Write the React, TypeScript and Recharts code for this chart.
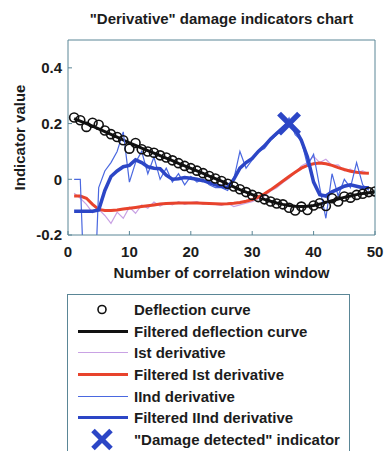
import React from 'react';
import { ComposedChart, Line, Scatter, XAxis, YAxis, Legend } from 'recharts';

const chartTitle = '"Derivative" damage indicators chart';
const xAxisTitle = 'Number of correlation window';
const yAxisTitle = 'Indicator value';

const windows = [
  1, 2, 3, 4, 5, 6, 7, 8, 9, 10, 11, 12, 13, 14, 15, 16, 17, 18, 19, 20, 21, 22, 23, 24, 25,
  26, 27, 28, 29, 30, 31, 32, 33, 34, 35, 36, 37, 38, 39, 40, 41, 42, 43, 44, 45, 46, 47, 48, 49, 50,
];

const deflection = [
  0.222, 0.212, 0.188, 0.203, 0.196, 0.175, 0.162, 0.152, 0.14, 0.11, 0.13, 0.108, 0.1, 0.095, 0.086,
  0.078, 0.068, 0.058, 0.048, 0.04, 0.031, 0.022, 0.012, 0.003, -0.006, -0.016, -0.026, -0.036, -0.046,
  -0.056, -0.064, -0.072, -0.08, -0.087, -0.09, -0.102, -0.112, -0.098, -0.11, -0.094, -0.086, -0.096,
  -0.068, -0.08, -0.062, -0.066, -0.056, -0.052, -0.046, -0.044,
];

const filteredDeflection = [
  0.218, 0.209, 0.2, 0.191, 0.181, 0.171, 0.161, 0.151, 0.141, 0.131, 0.122, 0.112, 0.103, 0.094, 0.085,
  0.076, 0.067, 0.057, 0.048, 0.039, 0.03, 0.021, 0.011, 0.002, -0.007, -0.017, -0.027, -0.037, -0.046,
  -0.055, -0.064, -0.072, -0.079, -0.085, -0.09, -0.094, -0.097, -0.098, -0.097, -0.094, -0.089, -0.083,
  -0.077, -0.071, -0.065, -0.06, -0.055, -0.051, -0.048, -0.045,
];

const firstDerivative = [
  -0.05, -0.068, -0.09, -0.12, -0.108, -0.13, -0.158, -0.118, -0.14, -0.1, -0.122, -0.092, -0.104, -0.082,
  -0.096, -0.084, -0.092, -0.08, -0.09, -0.084, -0.08, -0.09, -0.084, -0.09, -0.094, -0.086, -0.098, -0.092,
  -0.086, -0.08, -0.07, -0.06, -0.042, -0.03, -0.012, 0.004, 0.024, 0.048, 0.06, 0.082, 0.06, 0.072, 0.05,
  0.052, 0.03, 0.036, 0.024, 0.03, 0.02,
];

const filteredFirstDerivative = [
  -0.06, -0.06, -0.068, -0.09, -0.108, -0.112, -0.112, -0.11, -0.107, -0.104, -0.101, -0.098, -0.095, -0.092,
  -0.089, -0.087, -0.086, -0.085, -0.085, -0.085, -0.085, -0.086, -0.087, -0.088, -0.089, -0.088, -0.086,
  -0.083, -0.079, -0.073, -0.064, -0.052, -0.038, -0.022, -0.006, 0.01, 0.025, 0.04, 0.05, 0.056, 0.058,
  0.056, 0.05, 0.042, 0.035, 0.029, 0.025, 0.023, 0.022,
];

const secondDerivative = [
  0.0, 0.0, -0.6, -0.6, -0.03, 0.03, 0.06, 0.1, 0.17, -0.01, 0.06, 0.1, 0.02, 0.08, 0.0, 0.04, -0.01, 0.02,
  -0.02, 0.01, -0.01, 0.0, -0.02, -0.03, -0.03, -0.04, 0.0, 0.1, 0.04, 0.07, 0.1, 0.11, 0.14, 0.16, 0.18,
  0.22, 0.16, 0.14, 0.05, 0.09, -0.03, -0.14, 0.02, -0.06, 0.0, -0.03, 0.06, -0.02, -0.04,
];

const filteredSecondDerivative = [
  -0.115, -0.115, -0.115, -0.115, -0.11, -0.04, 0.01, 0.03, 0.045, 0.05, 0.07, 0.06, 0.045, 0.04, 0.038,
  0.015, 0.0, 0.002, 0.006, 0.004, 0.0, -0.005, -0.012, -0.02, -0.025, -0.03, 0.0, 0.04, 0.06, 0.075, 0.1,
  0.12, 0.145, 0.165, 0.185, 0.205, 0.18, 0.14, 0.08, -0.01, -0.055, -0.06, -0.045, -0.035, -0.025, -0.02,
  -0.025, -0.03, -0.03,
];

const damageWindow = [36];
const damageValue = [0.2];

const xTicks = [0, 10, 20, 30, 40, 50];
const yTicks = [-0.2, 0, 0.2, 0.4];

const legendLabels = [
  'Deflection curve',
  'Filtered deflection curve',
  'Ist derivative',
  'Filtered Ist derivative',
  'IInd derivative',
  'Filtered IInd derivative',
  '"Damage detected" indicator',
];

const data = windows.map((x, i) => ({
  x,
  deflection: deflection[i],
  filteredDeflection: filteredDeflection[i],
  first: firstDerivative[i] ?? null,
  filteredFirst: filteredFirstDerivative[i] ?? null,
  second: secondDerivative[i] ?? null,
  filteredSecond: filteredSecondDerivative[i] ?? null,
}));

const damageData = damageWindow.map((x, i) => ({ x, y: damageValue[i] }));

const FONT = '"Liberation Sans", Arial, Helvetica, sans-serif';
const FS = 15;
const FW = 'bold';
const FRAME = '#5a8696';
const TEXT = '#1c1c1c';
const C_BLACK = '#111111';
const C_PINK = '#c9a2e4';
const C_RED = '#e8432c';
const C_LBLUE = '#4a68e0';
const C_BLUE = '#2c46c6';

const XMark = (props: any) => {
  const { cx, cy } = props;
  const s = 10;
  return (
    <g>
      <line x1={cx - s} y1={cy - s} x2={cx + s} y2={cy + s} stroke={C_BLUE} strokeWidth={5.5} />
      <line x1={cx - s} y1={cy + s} x2={cx + s} y2={cy - s} stroke={C_BLUE} strokeWidth={5.5} />
    </g>
  );
};

const symbolFor = (i: number) => {
  const w = 56;
  const h = 21;
  const mid = h / 2;
  switch (i) {
    case 0:
      return <circle cx={26} cy={mid} r={4} fill="none" stroke={C_BLACK} strokeWidth={1.6} />;
    case 1:
      return <line x1={2} x2={w - 4} y1={mid} y2={mid} stroke={C_BLACK} strokeWidth={3} />;
    case 2:
      return <line x1={2} x2={w - 4} y1={mid} y2={mid} stroke={C_PINK} strokeWidth={1.2} />;
    case 3:
      return <line x1={2} x2={w - 4} y1={mid} y2={mid} stroke={C_RED} strokeWidth={3} />;
    case 4:
      return <line x1={2} x2={w - 4} y1={mid} y2={mid} stroke={C_LBLUE} strokeWidth={1.2} />;
    case 5:
      return <line x1={2} x2={w - 4} y1={mid} y2={mid} stroke={C_BLUE} strokeWidth={3} />;
    default:
      return (
        <g>
          <line x1={17} y1={mid - 9} x2={35} y2={mid + 9} stroke={C_BLUE} strokeWidth={5} />
          <line x1={17} y1={mid + 9} x2={35} y2={mid - 9} stroke={C_BLUE} strokeWidth={5} />
        </g>
      );
  }
};

const LegendBox = () => (
  <div style={{ paddingTop: 4, paddingLeft: 8 }}>
    {legendLabels.map((label, i) => (
      <div key={label} style={{ display: 'flex', alignItems: 'center', height: 21.6 }}>
        <svg width={56} height={21} style={{ flex: 'none', overflow: 'visible' }}>
          {symbolFor(i)}
        </svg>
        <span
          style={{ fontFamily: FONT, fontSize: FS, fontWeight: FW, color: TEXT, marginLeft: 2, whiteSpace: 'nowrap' }}
        >
          {label}
        </span>
      </div>
    ))}
  </div>
);

const textStyle = { fill: TEXT, fontSize: FS, fontFamily: FONT, fontWeight: FW };

export default function App() {
  return (
    <div style={{ position: 'absolute', left: 0, top: 0, width: 384, height: 451, overflow: 'hidden', background: '#fff' }}>
      <ComposedChart
        width={384}
        height={451}
        data={data}
        margin={{ top: 39, right: 8, bottom: 186, left: 20 }}
        style={{ fontFamily: FONT }}
      >
        <XAxis
          dataKey="x"
          type="number"
          domain={[0, 50]}
          ticks={xTicks}
          allowDataOverflow
          height={30}
          stroke={FRAME}
          tickSize={-4}
          tickMargin={15}
          tick={textStyle}
          label={{ value: xAxisTitle, position: 'bottom', offset: 2, ...textStyle }}
        />
        <XAxis
          xAxisId="t"
          dataKey="x"
          type="number"
          orientation="top"
          domain={[0, 50]}
          ticks={xTicks}
          allowDataOverflow
          height={1}
          stroke={FRAME}
          tickSize={-4}
          tick={false}
          label={{ value: chartTitle, position: 'top', offset: 15, ...textStyle }}
        />
        <YAxis
          type="number"
          domain={[-0.2, 0.5]}
          ticks={yTicks}
          allowDataOverflow
          width={48}
          stroke={FRAME}
          tickSize={-4}
          tickMargin={10}
          tick={textStyle}
          label={{
            value: yAxisTitle,
            angle: -90,
            position: 'insideLeft',
            offset: 0,
            ...textStyle,
            style: { textAnchor: 'middle' },
          }}
        />
        <YAxis
          yAxisId="r"
          orientation="right"
          type="number"
          domain={[-0.2, 0.5]}
          ticks={yTicks}
          allowDataOverflow
          width={1}
          stroke={FRAME}
          tickSize={-4}
          tick={false}
        />
        <Line
          xAxisId="t"
          yAxisId="r"
          dataKey="filteredDeflection"
          stroke="none"
          dot={false}
          activeDot={false}
          legendType="none"
          isAnimationActive={false}
        />
        <Line
          dataKey="deflection"
          stroke="none"
          isAnimationActive={false}
          dot={{ r: 4.5, stroke: C_BLACK, strokeWidth: 1.6, fill: 'none' }}
          activeDot={false}
        />
        <Line dataKey="filteredDeflection" stroke={C_BLACK} strokeWidth={3} dot={false} isAnimationActive={false} />
        <Line dataKey="first" stroke={C_PINK} strokeWidth={1.2} dot={false} isAnimationActive={false} />
        <Line dataKey="filteredFirst" stroke={C_RED} strokeWidth={3} dot={false} isAnimationActive={false} />
        <Line dataKey="second" stroke={C_LBLUE} strokeWidth={1.2} dot={false} isAnimationActive={false} />
        <Line dataKey="filteredSecond" stroke={C_BLUE} strokeWidth={3.5} dot={false} isAnimationActive={false} />
        <Scatter data={damageData} dataKey="y" shape={<XMark />} isAnimationActive={false} />
        <Legend
          layout="vertical"
          align="center"
          verticalAlign="middle"
          content={() => <LegendBox />}
          wrapperStyle={{
            left: 67,
            top: 294,
            width: 283,
            height: 170,
            border: `1px solid ${FRAME}`,
            background: '#fff',
            boxSizing: 'border-box',
          }}
        />
      </ComposedChart>
    </div>
  );
}
